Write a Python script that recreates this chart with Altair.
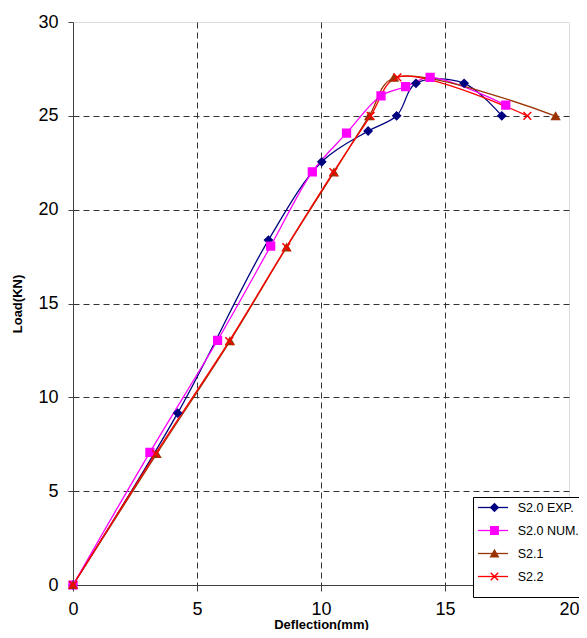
import altair as alt
import pandas as pd

series = ["S2.0 EXP.", "S2.0 NUM.", "S2.1", "S2.2"]
colors = ["#000080", "#FF00FF", "#993300", "#FF0000"]

exp_x = [0, 4.22, 7.88, 10.03, 11.9, 13.05, 13.83, 15.77, 17.29]
exp_y = [0, 9.16, 18.38, 22.55, 24.19, 25.0, 26.73, 26.73, 25.0]

num_x = [0, 3.1, 5.83, 7.97, 9.65, 11.03, 12.42, 13.41, 14.4, 17.45]
num_y = [0, 7.07, 13.04, 18.06, 22.02, 24.08, 26.07, 26.55, 27.05, 25.57]

s21_x = [0, 3.37, 6.33, 8.61, 10.52, 11.94, 12.94, 19.46]
s21_y = [0, 6.98, 13.0, 17.99, 21.99, 24.99, 27.03, 24.99]

s22_x = [0, 3.33, 6.3, 8.6, 10.5, 12.0, 13.08, 18.32]
s22_y = [0, 7.0, 13.0, 18.0, 22.0, 25.0, 27.05, 25.0]

x_ticks = [0, 5, 10, 15, 20]
y_ticks = [0, 5, 10, 15, 20, 25, 30]

rows = []
for k, (name, xs, ys) in enumerate(zip(series, [exp_x, num_x, s21_x, s22_x], [exp_y, num_y, s21_y, s22_y])):
    for i, (xv, yv) in enumerate(zip(xs, ys)):
        rows.append({"series": name, "key": k, "order": i, "x": xv, "y": yv})
df = pd.DataFrame(rows)

plot_shapes = ["diamond", "square", "triangle-up", "M-1,-1L1,1M1,-1L-1,1"]

FONT = "Liberation Sans"
LX, LY = 400, 475

# line part of the legend (drawn on top, no box, no labels)
line_legend = alt.Legend(
    title=None,
    orient="none",
    legendX=LX,
    legendY=LY,
    padding=4,
    rowPadding=10,
    clipHeight=13,
    symbolType="stroke",
    symbolSize=900,
    symbolStrokeWidth=1.3,
    labelOffset=0,
    labelExpr="''",
    zindex=2,
)

# marker part of the legend, with the box and the labels
shape_legend = alt.Legend(
    title="\u00a0",
    titleOrient="bottom",
    titleFontSize=10,
    titlePadding=0,
    orient="none",
    legendX=LX,
    legendY=LY,
    padding=4,
    rowPadding=10,
    clipHeight=13,
    symbolSize=55,
    symbolStrokeWidth=1.5,
    symbolOffset=11.2,
    labelOffset=17,
    labelFont=FONT,
    labelFontSize=12.5,
    labelColor="black",
    strokeColor="black",
    fillColor="white",
    cornerRadius=0,
    zindex=1,
)

x_enc = alt.X(
    "x:Q",
    scale=alt.Scale(domain=[0, 20], nice=False, zero=False),
    axis=alt.Axis(
        values=x_ticks,
        title="Deflection(mm)",
        titleFont=FONT,
        titleFontSize=13,
        titleFontWeight="bold",
        titleColor="black",
        titleBaseline="alphabetic",
        titleY=43,
        labelFont=FONT,
        labelFontSize=18,
        labelColor="black",
        labelPadding=9,
        labelFlush=False,
        tickSize=6,
        tickColor="#404040",
        domainColor="#404040",
        grid=True,
        gridColor="#333333",
        gridDash=[6, 4],
        gridOpacity={"condition": {"test": "datum.value >= 20 || datum.value <= 0", "value": 0}, "value": 1},
    ),
)
y_enc = alt.Y(
    "y:Q",
    scale=alt.Scale(domain=[0, 30], nice=False, zero=False),
    axis=alt.Axis(
        values=y_ticks,
        title="Load(KN)",
        titleFont=FONT,
        titleFontSize=13,
        titleFontWeight="bold",
        titleColor="black",
        titleBaseline="middle",
        titleX=-56,
        labelFont=FONT,
        labelFontSize=18,
        labelColor="black",
        labelPadding=10,
        labelFlush=False,
        tickSize=5,
        tickColor="#404040",
        domainColor="#404040",
        grid=True,
        gridColor="#333333",
        gridDash=[6, 4],
        gridOpacity={"condition": {"test": "datum.value >= 30 || datum.value <= 0", "value": 0}, "value": 1},
    ),
)

lines = alt.Chart(df).mark_line(interpolate="catmull-rom", strokeWidth=1.3).encode(
    x=x_enc,
    y=y_enc,
    color=alt.Color("key:O", scale=alt.Scale(domain=[0, 1, 2, 3], range=colors), legend=line_legend),
    order="order:Q",
)

points = alt.Chart(df).mark_point(filled=True, size=60, strokeWidth=1.5, opacity=1).encode(
    x=x_enc,
    y=y_enc,
    fill=alt.Fill("series:N", scale=alt.Scale(domain=series, range=colors), legend=shape_legend),
    stroke=alt.Stroke("series:N", scale=alt.Scale(domain=series, range=colors), legend=shape_legend),
    shape=alt.Shape("series:N", scale=alt.Scale(domain=series, range=plot_shapes), legend=shape_legend),
)

chart = (
    alt.layer(lines, points)
    .properties(
        width=496,
        height=563,
        autosize=alt.AutoSizeParams(type="none"),
        padding={"left": 65, "top": 14, "right": 10, "bottom": 45},
    )
    .configure_view(stroke=None)
    .configure(background="white")
)

chart.save("out.html", embed_options={"renderer": "svg", "actions": False})
